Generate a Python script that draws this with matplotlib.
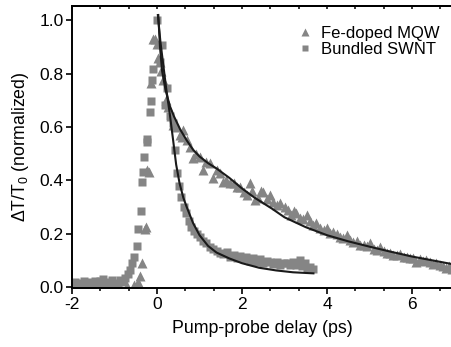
import numpy as np
import matplotlib
matplotlib.use("Agg")
import matplotlib.pyplot as plt
from matplotlib.ticker import MultipleLocator

plt.rcParams['font.family'] = ['Liberation Sans', 'DejaVu Sans']
plt.rcParams['mathtext.fontset'] = 'custom'
plt.rcParams['mathtext.rm'] = 'Liberation Sans'
plt.rcParams['mathtext.it'] = 'Liberation Sans:italic'
plt.rcParams['axes.unicode_minus'] = False

## data
# Bundled SWNT (squares)
swnt_x = [-1.98, -1.92, -1.85, -1.79, -1.72, -1.66, -1.59, -1.53, -1.46, -1.40,
          -1.33, -1.27, -1.20, -1.14, -1.07, -1.01, -0.94, -0.88, -0.81, -0.75,
          -0.69, -0.64, -0.58, -0.54, -0.48, -0.44, -0.38, -0.35, -0.33, -0.30,
          -0.24, -0.23, -0.17, -0.14, -0.12, -0.09, 0.00, 0.07, 0.11, 0.19,
          0.23, 0.30, 0.38, 0.42, 0.46, 0.52, 0.57, 0.63, 0.69, 0.75,
          0.81, 0.88, 0.95, 1.01, 1.08, 1.15, 1.25, 1.32, 1.40, 1.48,
          1.55, 1.64, 1.72, 1.80, 1.88, 1.96, 2.04, 2.10, 2.18, 2.26,
          2.34, 2.42, 2.50, 2.58, 2.66, 2.74, 2.82, 2.90, 2.98, 3.05,
          3.12, 3.20, 3.28, 3.36, 3.42, 3.48, 3.54, 3.60, 3.66]
swnt_y = [0.012, 0.020, 0.008, 0.015, 0.025, 0.010, 0.018, 0.006, 0.022, 0.014,
          0.024, 0.030, 0.012, 0.020, 0.028, 0.016, 0.010, 0.026, 0.018, 0.035,
          0.050, 0.065, 0.090, 0.115, 0.155, 0.220, 0.287, 0.395, 0.430, 0.487,
          0.545, 0.554, 0.658, 0.698, 0.776, 0.818, 1.000, 0.845, 0.907, 0.683,
          0.745, 0.640, 0.614, 0.514, 0.427, 0.380, 0.339, 0.300, 0.277, 0.250,
          0.227, 0.210, 0.200, 0.190, 0.175, 0.165, 0.152, 0.145, 0.135, 0.127,
          0.125, 0.133, 0.115, 0.120, 0.110, 0.118, 0.105, 0.115, 0.100, 0.108,
          0.095, 0.105, 0.092, 0.100, 0.096, 0.088, 0.095, 0.085, 0.092, 0.090,
          0.082, 0.095, 0.085, 0.102, 0.080, 0.090, 0.072, 0.077, 0.068]

# Fe-doped MQW (triangles)
mqw_x = [-1.90, -1.70, -1.50, -1.30, -1.10, -0.90, -0.70, -0.55, -0.45, -0.41,
         -0.36, -0.28, -0.26, -0.24, -0.20, -0.13, -0.09, -0.05, 0.00, 0.03,
         0.07, 0.10, 0.15, 0.20, 0.27, 0.33, 0.38, 0.45, 0.54, 0.58,
         0.62, 0.70, 0.77, 0.85, 0.92, 1.01, 1.08, 1.15, 1.25, 1.32,
         1.40, 1.48, 1.56, 1.63, 1.72, 1.80, 1.88, 1.96, 2.04, 2.12,
         2.19, 2.24, 2.30, 2.38, 2.44, 2.50, 2.58, 2.66, 2.74, 2.82,
         2.90, 3.00, 3.08, 3.15, 3.22, 3.28, 3.36, 3.44, 3.52, 3.60,
         3.68, 3.75, 3.84, 3.92, 3.99, 4.07, 4.15, 4.23, 4.30, 4.38,
         4.46, 4.54, 4.62, 4.70, 4.78, 4.86, 4.94, 5.01, 5.10, 5.18,
         5.25, 5.33, 5.40, 5.48, 5.56, 5.64, 5.72, 5.80, 5.87, 5.95,
         6.02, 6.10, 6.18, 6.26, 6.34, 6.42, 6.50, 6.57, 6.65, 6.73,
         6.81, 6.88, 6.95]
mqw_y = [0.005, 0.008, 0.004, 0.006, 0.005, 0.007, 0.006, 0.008, 0.020, 0.042,
         0.092, 0.220, 0.225, 0.440, 0.433, 0.764, 0.930, 0.930, 0.910, 0.860,
         0.845, 0.810, 0.776, 0.700, 0.676, 0.640, 0.608, 0.600, 0.570, 0.564,
         0.589, 0.550, 0.527, 0.483, 0.500, 0.489, 0.440, 0.470, 0.464, 0.408,
         0.440, 0.427, 0.395, 0.400, 0.390, 0.390, 0.375, 0.377, 0.355, 0.345,
         0.390, 0.360, 0.327, 0.335, 0.360, 0.358, 0.330, 0.346, 0.320, 0.308,
         0.315, 0.302, 0.290, 0.270, 0.285, 0.277, 0.260, 0.255, 0.271, 0.250,
         0.235, 0.240, 0.222, 0.215, 0.221, 0.205, 0.208, 0.200, 0.190, 0.185,
         0.196, 0.178, 0.170, 0.175, 0.158, 0.160, 0.155, 0.165, 0.145, 0.140,
         0.152, 0.135, 0.127, 0.130, 0.122, 0.121, 0.125, 0.112, 0.115, 0.108,
         0.110, 0.096, 0.105, 0.098, 0.102, 0.095, 0.088, 0.090, 0.085, 0.080,
         0.071, 0.078, 0.070]

# fit curves
swnt_fit_x = [0.02, 0.08, 0.15, 0.22, 0.30, 0.38, 0.45, 0.53, 0.62, 0.70,
              0.85, 1.00, 1.20, 1.40, 1.70, 2.00, 2.40, 2.80, 3.20, 3.68]
swnt_fit_y = [1.02, 0.92, 0.83, 0.74, 0.65, 0.55, 0.46, 0.39, 0.335, 0.30,
              0.24, 0.195, 0.155, 0.13, 0.108, 0.09, 0.073, 0.063, 0.056, 0.052]
mqw_fit_x = [0.03, 0.07, 0.12, 0.20, 0.30, 0.40, 0.55, 0.70, 0.85, 1.00,
             1.20, 1.40, 1.70, 2.00, 2.30, 2.70, 3.00, 3.50, 4.00, 4.50,
             5.00, 5.50, 6.00, 6.50, 7.00]
mqw_fit_y = [1.02, 0.90, 0.81, 0.74, 0.68, 0.64, 0.59, 0.55, 0.515, 0.49,
             0.465, 0.445, 0.41, 0.37, 0.335, 0.295, 0.262, 0.225, 0.195, 0.172,
             0.152, 0.133, 0.115, 0.100, 0.085]

grey = '#858585'

fig = plt.figure(figsize=(4.52, 3.47), dpi=100)
ax = fig.add_axes([72/452, 1-288.3/347, 1-72/452, (288.3-5.7)/347])

ax.plot(mqw_x, mqw_y, '^', color=grey, ms=7, mec='none', label='Fe-doped MQW')
ax.plot(swnt_x, swnt_y, 's', color=grey, ms=5.2, mec='none', label='Bundled SWNT')
ax.plot(swnt_fit_x, swnt_fit_y, '-', color='#1a1a1a', lw=1.5)
ax.plot(mqw_fit_x, mqw_fit_y, '-', color='#1a1a1a', lw=1.5)

ax.set_xlim(-2, 6.94)
ax.set_ylim(-0.004, 1.055)
ax.xaxis.set_major_locator(MultipleLocator(2))
ax.xaxis.set_minor_locator(MultipleLocator(2/3))
ax.yaxis.set_major_locator(MultipleLocator(0.2))
ax.yaxis.set_major_formatter(matplotlib.ticker.FormatStrFormatter('%.1f'))

for s in ax.spines.values():
    s.set_linewidth(1.4)
ax.spines['right'].set_visible(False)

ax.tick_params(axis='both', which='major', direction='out', length=4, width=1.2,
               labelsize=12.5, pad=2, colors='black')
ax.tick_params(axis='x', which='minor', direction='out', length=2.5, width=1.1)
# inward marks on the top spine
ax2 = ax.secondary_xaxis('top')
ax2.xaxis.set_major_locator(MultipleLocator(2))
ax2.xaxis.set_minor_locator(MultipleLocator(2/3))
ax2.tick_params(axis='x', which='both', direction='in', length=2.5, width=1.1,
                labeltop=False)
ax2.spines['top'].set_linewidth(1.4)

ax.set_xlabel('Pump-probe delay (ps)', fontsize=12.8, labelpad=6)
ax.set_ylabel(r'ΔT/T$_0$ (normalized)', fontsize=12.8, labelpad=6)

ax.legend(loc='upper right', bbox_to_anchor=(0.999, 0.971), frameon=False,
          fontsize=12, handlelength=0.8, handletextpad=0.6, labelspacing=0.08,
          borderpad=0.2, markerscale=0.85)

fig.savefig('out.png', dpi=100)
